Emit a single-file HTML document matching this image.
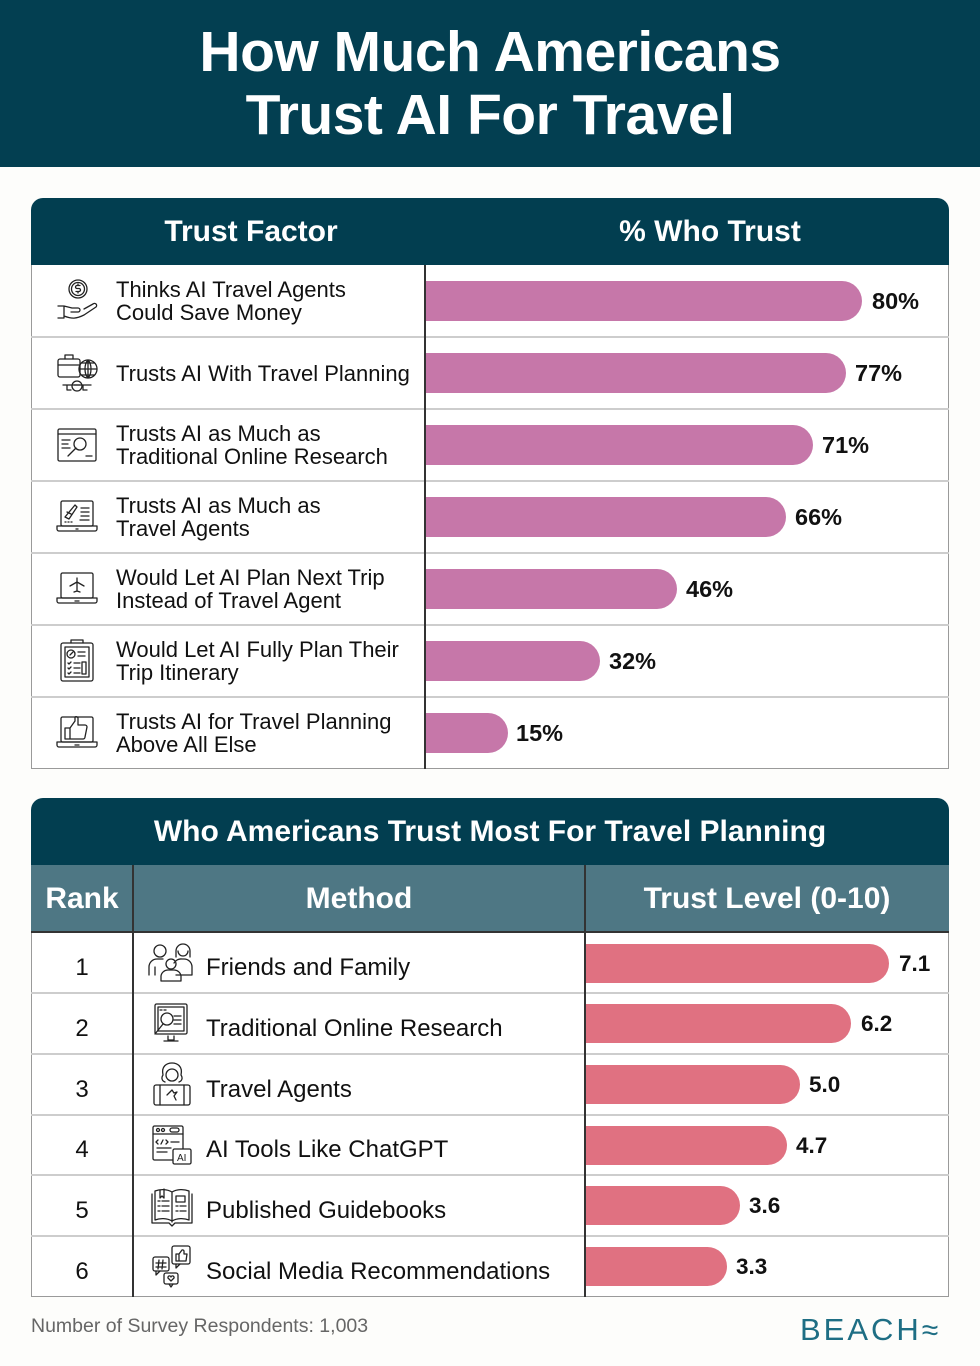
<!DOCTYPE html>
<html><head><meta charset="utf-8">
<style>
*{box-sizing:border-box;margin:0;padding:0}
body{width:980px;height:1366px;background:#FDFDFB;position:relative;overflow:hidden;font-family:"Liberation Sans",sans-serif;color:#111}
.abs{position:absolute}
.hdr{left:0;top:0;width:980px;height:167px;background:#033F51}
.title{left:0;width:980px;text-align:center;color:#fff;font-weight:bold;font-size:57px;line-height:57px;letter-spacing:-0.5px}
.thead{background:#023E50;color:#fff;font-weight:bold;font-size:30px;display:flex;align-items:center;justify-content:center}
.row{left:31px;width:918px;background:#fff;border-left:1px solid #9a9a9a;border-right:1px solid #9a9a9a}
.txt{font-size:22px;line-height:23px;display:flex;align-items:center}
.txt2{font-size:24px;line-height:26px;display:flex;align-items:center}
.bar1{background:#C677A9;height:40px;border-radius:0 20px 20px 0}
.bar2{background:#E07181;height:39px;border-radius:0 20px 20px 0}
.val{font-weight:bold;font-size:23.5px;display:flex;align-items:center}
.val2{font-weight:bold;font-size:22.5px;display:flex;align-items:center}
.sep{height:2px;background:#cdcdcd}
.icon{stroke:#222;stroke-width:1.3;fill:none;stroke-linecap:round;stroke-linejoin:round}
</style></head><body>

<div class="abs hdr"></div>
<div class="abs title" style="top:24px">How Much Americans</div>
<div class="abs title" style="top:87px">Trust AI For Travel</div>

<!-- TABLE 1 -->
<div class="abs thead" style="left:31px;top:198px;width:918px;height:67px;border-radius:12px 12px 0 0"></div>
<div class="abs" style="left:31px;top:198px;width:440px;height:67px;color:#fff;font-weight:bold;font-size:30px;display:flex;align-items:center;justify-content:center">Trust Factor</div>
<div class="abs" style="left:471px;top:198px;width:478px;height:67px;color:#fff;font-weight:bold;font-size:30px;display:flex;align-items:center;justify-content:center">% Who Trust</div>

<div class="abs row" style="top:265px;height:504px;border-bottom:1px solid #9a9a9a"></div>

<div class="abs sep" style="left:31px;top:336px;width:918px"></div>
<div class="abs sep" style="left:31px;top:408px;width:918px"></div>
<div class="abs sep" style="left:31px;top:480px;width:918px"></div>
<div class="abs sep" style="left:31px;top:552px;width:918px"></div>
<div class="abs sep" style="left:31px;top:624px;width:918px"></div>
<div class="abs sep" style="left:31px;top:696px;width:918px"></div>
<div class="abs" style="left:424px;top:265px;width:2px;height:504px;background:#333"></div>

<div class="abs txt" style="left:116px;top:265px;height:72px">Thinks AI Travel Agents<br>Could Save Money</div>
<div class="abs txt" style="left:116px;top:337px;height:72px">Trusts AI With Travel Planning</div>
<div class="abs txt" style="left:116px;top:409px;height:72px">Trusts AI as Much as<br>Traditional Online Research</div>
<div class="abs txt" style="left:116px;top:481px;height:72px">Trusts AI as Much as<br>Travel Agents</div>
<div class="abs txt" style="left:116px;top:553px;height:72px">Would Let AI Plan Next Trip<br>Instead of Travel Agent</div>
<div class="abs txt" style="left:116px;top:625px;height:72px">Would Let AI Fully Plan Their<br>Trip Itinerary</div>
<div class="abs txt" style="left:116px;top:697px;height:72px">Trusts AI for Travel Planning<br>Above All Else</div>

<div class="abs bar1" style="left:426px;top:281px;width:436px"></div>
<div class="abs val" style="left:872px;top:281px;height:40px">80%</div>
<div class="abs bar1" style="left:426px;top:353px;width:420px"></div>
<div class="abs val" style="left:855px;top:353px;height:40px">77%</div>
<div class="abs bar1" style="left:426px;top:425px;width:387px"></div>
<div class="abs val" style="left:822px;top:425px;height:40px">71%</div>
<div class="abs bar1" style="left:426px;top:497px;width:360px"></div>
<div class="abs val" style="left:795px;top:497px;height:40px">66%</div>
<div class="abs bar1" style="left:426px;top:569px;width:251px"></div>
<div class="abs val" style="left:686px;top:569px;height:40px">46%</div>
<div class="abs bar1" style="left:426px;top:641px;width:174px"></div>
<div class="abs val" style="left:609px;top:641px;height:40px">32%</div>
<div class="abs bar1" style="left:426px;top:713px;width:82px"></div>
<div class="abs val" style="left:516px;top:713px;height:40px">15%</div>

<!-- icons table 1 -->
<svg class="abs" style="left:55px;top:279px" width="44" height="44" viewBox="0 0 44 44">
 <g class="icon"><circle cx="23" cy="10" r="9"/><circle cx="23" cy="10" r="6.5"/>
 <path d="M25 6.5h-3a1.5 1.5 0 0 0 0 3h2a1.5 1.5 0 0 1 0 3h-3M23 5v1.5M23 12.5v1.5"/>
 <path d="M3 27h6l8 2h6a2 2 0 0 1 0 4h-7M9 27v12h-6M9 37c8 3 12 3 20-1l12-8a2 2 0 0 0-3-3l-9 5"/></g></svg>
<svg class="abs" style="left:55px;top:351px" width="44" height="44" viewBox="0 0 44 44">
 <g class="icon"><rect x="3" y="8" width="22" height="18" rx="2"/><path d="M10 8V4h8v4M3 14h22"/>
 <circle cx="33" cy="18" r="9"/><path d="M24 18h18M33 9v18M27 12h12M27 24h12M33 9c-4 4-4 14 0 18M33 9c4 4 4 14 0 18"/>
 <path d="M8 34h28M12 34v5h4M28 34v5h4"/><ellipse cx="22" cy="35" rx="5" ry="5"/><path d="M19 34h6"/></g></svg>
<svg class="abs" style="left:55px;top:423px" width="44" height="44" viewBox="0 0 44 44">
 <g class="icon"><rect x="3" y="6" width="38" height="32" rx="1.5"/><path d="M3 11h38M7 17h8M7 21h6M7 25h8M31 33h6"/>
 <circle cx="25" cy="21" r="6"/><path d="M21 25l-8 8"/></g></svg>
<svg class="abs" style="left:55px;top:495px" width="44" height="44" viewBox="0 0 44 44">
 <g class="icon"><rect x="6" y="6" width="32" height="25" rx="1.5"/><path d="M2 31h40v3a2 2 0 0 1-2 2H4a2 2 0 0 1-2-2zM21 34h2"/>
 <path d="M10 22l10-12 2 2-8 12zM12 17l4 2"/><path d="M26 13h8M26 17h8M26 21h8M25 25h9M10 27h1M13 27h1M16 27h1"/></g></svg>
<svg class="abs" style="left:55px;top:567px" width="44" height="44" viewBox="0 0 44 44">
 <g class="icon"><rect x="6" y="6" width="32" height="25" rx="1.5"/><path d="M2 31h40v3a2 2 0 0 1-2 2H4a2 2 0 0 1-2-2zM20 34h4"/>
 <path d="M22 11v13M15 19l7-4 7 4M19 25l3-1 3 1"/></g></svg>
<svg class="abs" style="left:57px;top:638px" width="40" height="46" viewBox="0 0 40 46">
 <g class="icon"><rect x="4" y="5" width="32" height="38" rx="2"/><rect x="8" y="9" width="24" height="30"/><path d="M14 5V2h12v3"/>
 <circle cx="14" cy="16" r="4"/><path d="M13 17l3-3M21 14h7M21 18h7M11 25l1 1 2-2M11 30l1 1 2-2M11 35l1 1 2-2M17 25h6M17 30h6M17 35h6M25 24h4v12h-4z"/></g></svg>
<svg class="abs" style="left:55px;top:711px" width="44" height="44" viewBox="0 0 44 44">
 <g class="icon"><rect x="6" y="6" width="32" height="25" rx="1.5"/><path d="M2 31h40v3a2 2 0 0 1-2 2H4a2 2 0 0 1-2-2zM20 34h4"/>
 <path d="M10 17h5v11h-5zM15 17l5-7v-4a2 2 0 0 1 3 1v7h7a2 2 0 0 1 2 2l-2 10a2 2 0 0 1-2 2H15"/></g></svg>

<!-- TABLE 2 -->
<div class="abs thead" style="left:31px;top:798px;width:918px;height:67px;border-radius:12px 12px 0 0">Who Americans Trust Most For Travel Planning</div>
<div class="abs" style="left:31px;top:865px;width:918px;height:68px;background:#4E7784;border-bottom:2px solid #333"></div>
<div class="abs" style="left:31px;top:865px;width:102px;height:68px;color:#fff;font-weight:bold;font-size:30px;display:flex;align-items:center;justify-content:center">Rank</div>
<div class="abs" style="left:133px;top:865px;width:452px;height:68px;color:#fff;font-weight:bold;font-size:30px;display:flex;align-items:center;justify-content:center">Method</div>
<div class="abs" style="left:585px;top:865px;width:364px;height:68px;color:#fff;font-weight:bold;font-size:30px;display:flex;align-items:center;justify-content:center">Trust Level (0-10)</div>

<div class="abs row" style="top:933px;height:364px;border-bottom:1px solid #9a9a9a"></div>
<div class="abs sep" style="left:31px;top:992px;width:918px"></div>
<div class="abs sep" style="left:31px;top:1053px;width:918px"></div>
<div class="abs sep" style="left:31px;top:1114px;width:918px"></div>
<div class="abs sep" style="left:31px;top:1174px;width:918px"></div>
<div class="abs sep" style="left:31px;top:1235px;width:918px"></div>
<div class="abs" style="left:132px;top:865px;width:2px;height:432px;background:#333"></div>
<div class="abs" style="left:584px;top:865px;width:2px;height:432px;background:#333"></div>

<div class="abs txt2" style="left:31px;width:102px;justify-content:center;top:938px;height:60px">1</div>
<div class="abs txt2" style="left:31px;width:102px;justify-content:center;top:999px;height:60px">2</div>
<div class="abs txt2" style="left:31px;width:102px;justify-content:center;top:1060px;height:60px">3</div>
<div class="abs txt2" style="left:31px;width:102px;justify-content:center;top:1120px;height:60px">4</div>
<div class="abs txt2" style="left:31px;width:102px;justify-content:center;top:1181px;height:60px">5</div>
<div class="abs txt2" style="left:31px;width:102px;justify-content:center;top:1242px;height:60px">6</div>

<div class="abs txt2" style="left:206px;top:938px;height:60px">Friends and Family</div>
<div class="abs txt2" style="left:206px;top:999px;height:60px">Traditional Online Research</div>
<div class="abs txt2" style="left:206px;top:1060px;height:60px">Travel Agents</div>
<div class="abs txt2" style="left:206px;top:1120px;height:60px">AI Tools Like ChatGPT</div>
<div class="abs txt2" style="left:206px;top:1181px;height:60px">Published Guidebooks</div>
<div class="abs txt2" style="left:206px;top:1242px;height:60px">Social Media Recommendations</div>

<div class="abs bar2" style="left:586px;top:944px;width:303px"></div>
<div class="abs val2" style="left:899px;top:944px;height:39px">7.1</div>
<div class="abs bar2" style="left:586px;top:1004px;width:265px"></div>
<div class="abs val2" style="left:861px;top:1004px;height:39px">6.2</div>
<div class="abs bar2" style="left:586px;top:1065px;width:214px"></div>
<div class="abs val2" style="left:809px;top:1065px;height:39px">5.0</div>
<div class="abs bar2" style="left:586px;top:1126px;width:201px"></div>
<div class="abs val2" style="left:796px;top:1126px;height:39px">4.7</div>
<div class="abs bar2" style="left:586px;top:1186px;width:154px"></div>
<div class="abs val2" style="left:749px;top:1186px;height:39px">3.6</div>
<div class="abs bar2" style="left:586px;top:1247px;width:141px"></div>
<div class="abs val2" style="left:736px;top:1247px;height:39px">3.3</div>

<!-- icons table 2 -->
<svg class="abs" style="left:146px;top:941px" width="52" height="44" viewBox="0 0 52 44">
 <g class="icon"><circle cx="14" cy="10" r="6"/><path d="M3 34v-8a8 8 0 0 1 8-8h6M9 26v8"/>
 <path d="M30 16v-6a7 7 0 0 1 14 0v6M32 10a5 5 0 0 0 10 0"/><path d="M28 22a8 8 0 0 1 8-4h2a8 8 0 0 1 8 8v8H30"/>
 <circle cx="25" cy="23" r="5"/><path d="M15 40v-5a7 7 0 0 1 7-6h6a7 7 0 0 1 7 6v5z"/></g></svg>
<svg class="abs" style="left:150px;top:1002px" width="44" height="44" viewBox="0 0 44 44">
 <g class="icon"><rect x="5" y="2" width="32" height="30" rx="1.5"/><rect x="8" y="5" width="26" height="24"/>
 <path d="M10 8h2M14 8h2M18 34v4h6v-4M14 39h14M24 14h7M24 18h7M24 22h7"/>
 <circle cx="17" cy="17" r="6"/><path d="M13 22l-8 10"/></g></svg>
<svg class="abs" style="left:150px;top:1061px" width="44" height="46" viewBox="0 0 44 46">
 <g class="icon"><path d="M13 14c-2-9 4-12 9-12s11 3 9 12c2 3 1 6-2 7M13 14c-2 3-1 6 2 7"/><circle cx="22" cy="14" r="6"/>
 <rect x="4" y="24" width="36" height="20" rx="2"/><path d="M10 24v20M34 24v20M17 34l5-5 2 3 3-1-3 4 2 4"/></g></svg>
<svg class="abs" style="left:150px;top:1123px" width="46" height="44" viewBox="0 0 46 44">
 <g class="icon"><rect x="3" y="3" width="30" height="34" rx="1.5"/><path d="M3 11h30"/><circle cx="8" cy="7" r="1.5"/><circle cx="13" cy="7" r="1.5"/><rect x="20" y="5" width="9" height="4" rx="2"/>
 <path d="M8 17l-2 2 2 2M13 17l-2 4M16 17l2 2-2 2M21 19h8M7 25h14M7 29h10"/>
 <rect x="23" y="26" width="18" height="15" rx="1.5" style="fill:#fff"/></g>
 <text x="27" y="38" font-family="Liberation Sans" font-size="10" fill="#222">AI</text></svg>
<svg class="abs" style="left:150px;top:1184px" width="44" height="44" viewBox="0 0 44 44">
 <g class="icon"><path d="M22 8v30M22 8c-5-3-12-3-17-1v29c5-2 12-2 17 1c5-3 12-3 17-1V7c-5-2-12-2-17 1z"/>
 <path d="M2 10v29h17l3 3 3-3h17V10M10 6v8l2-2 2 2V5M8 17h2M12 17h7M8 22h2M12 22h7M8 27h2M12 27h7M26 12h9v6h-9zM26 22h2M30 22h6M26 27h2M30 27h6"/></g></svg>
<svg class="abs" style="left:150px;top:1243px" width="44" height="46" viewBox="0 0 44 46">
 <g class="icon"><rect x="3" y="14" width="16" height="14" rx="2"/><path d="M6 28v4l4-4"/>
 <path d="M9 17l-1 9M13 17l-1 9M6 20h10M6 24h10"/>
 <rect x="22" y="3" width="18" height="18" rx="2"/><path d="M26 21v4l4-4M26 11h3v7h-3zM29 11l3-4a1.5 1.5 0 0 1 2 1v3h3l-1 7h-7"/>
 <rect x="14" y="30" width="14" height="11" rx="2"/><path d="M19 41l2 3 2-3M21 38l-3-3a1.5 1.5 0 0 1 3-1 1.5 1.5 0 0 1 3 1z"/></g></svg>

<!-- footer -->
<div class="abs" style="left:31px;top:1315px;font-size:19.5px;color:#666;line-height:22px">Number of Survey Respondents: 1,003</div>
<div class="abs" style="left:800px;top:1312px;font-size:31px;line-height:36px;color:#1E6E84;letter-spacing:3px">BEACH<span style="font-size:30px;letter-spacing:0">≈</span></div>

</body></html>
